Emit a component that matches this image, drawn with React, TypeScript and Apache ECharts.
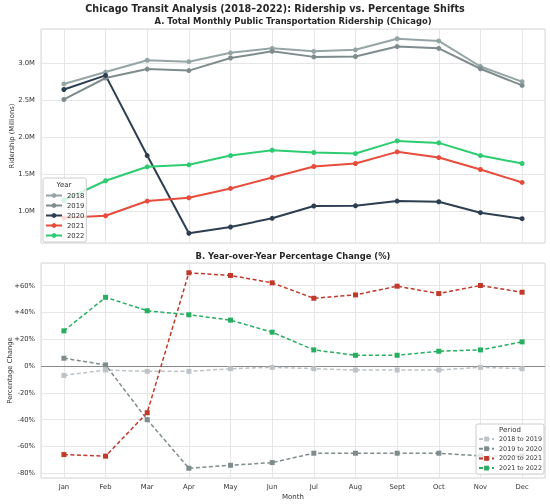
import React, { useEffect, useRef } from "react";
import * as echarts from "echarts";

const months = ["Jan", "Feb", "Mar", "Apr", "May", "Jun", "Jul", "Aug", "Sept", "Oct", "Nov", "Dec"];

// Ridership in millions
const years = ["2018", "2019", "2020", "2021", "2022"];
const r2018 = [2.72, 2.88, 3.04, 3.02, 3.14, 3.2, 3.16, 3.18, 3.33, 3.3, 2.955, 2.75];
const r2019 = [2.51, 2.8, 2.92, 2.9, 3.07, 3.16, 3.085, 3.09, 3.225, 3.2, 2.925, 2.7];
const r2020 = [2.645, 2.835, 1.753, 0.704, 0.789, 0.906, 1.072, 1.076, 1.139, 1.13, 0.982, 0.901];
const r2021 = [0.912, 0.94, 1.139, 1.184, 1.309, 1.457, 1.605, 1.646, 1.803, 1.726, 1.565, 1.39];
const r2022 = [1.15, 1.413, 1.601, 1.628, 1.753, 1.825, 1.794, 1.78, 1.951, 1.924, 1.753, 1.646];

// Year-over-year % change
const periods = ["2018 to 2019", "2019 to 2020", "2020 to 2021", "2021 to 2022"];
const p1819 = [-7, -3, -4, -4, -2, -1, -2, -3, -3, -3, -1, -2];
const p1920 = [5.8, 0.8, -40, -76.2, -74, -72, -65, -65, -65, -65, -67, -67];
const p2021 = [-66, -67.2, -34.8, 69.5, 67.5, 62, 50.5, 53, 59.5, 54, 60, 55];
const p2122 = [26.2, 51.2, 41.2, 38.2, 34.2, 25.2, 12, 8, 8, 11, 12, 18];

const yearColors = ["#95a5a6", "#7f8c8d", "#2c3e50", "#e74c3c", "#2ecc71"];
const periodColors = ["#bdc3c7", "#7f8c8d", "#c0392b", "#27ae60"];

const FONT = "DejaVu Sans";
const TXT = "#333333";
const GRIDC = "#e6e6e6";

function toPts(arr: number[]) {
  return arr.map((v, i) => [i, v]);
}

export default function App() {
  const ref = useRef<HTMLDivElement>(null);
  useEffect(() => {
    document.body.style.margin = "0";
    if (!ref.current) return;
    const chart = echarts.init(ref.current, undefined, { renderer: "svg" });

    const monthFmt = (v: number) => {
      const i = Math.round(v);
      return Math.abs(v - i) < 1e-6 && i >= 0 && i < 12 ? months[i] : "";
    };
    const xAxisBase = (gridIndex: number, showLabels: boolean) => ({
      type: "value",
      gridIndex,
      min: -0.55,
      max: 11.55,
      minInterval: 1,
      maxInterval: 1,
      axisLine: { show: false },
      axisTick: { show: false },
      splitLine: { show: true, lineStyle: { color: GRIDC, width: 1 } },
      axisLabel: {
        show: showLabels,
        formatter: monthFmt,
        color: TXT,
        fontSize: 6.8,
        fontFamily: FONT,
        margin: 5,
      },
      name: showLabels ? "Month" : "",
      nameLocation: "middle",
      nameGap: 15,
      nameMoveOverlap: false,
      nameTextStyle: { color: TXT, fontSize: 7, fontFamily: FONT },
    });

    const topSeries = [r2018, r2019, r2020, r2021, r2022].map((arr, k) => ({
      name: years[k],
      type: "line",
      xAxisIndex: 0,
      yAxisIndex: 0,
      data: toPts(arr),
      symbol: "circle",
      symbolSize: 5,
      lineStyle: { color: yearColors[k], width: 2 },
      itemStyle: { color: yearColors[k] },
      emphasis: { disabled: true },
      z: 2,
    }));

    const botSeries = [p1819, p1920, p2021, p2122].map((arr, k) => ({
      name: periods[k],
      type: "line",
      xAxisIndex: 1,
      yAxisIndex: 1,
      data: toPts(arr),
      symbol: "rect",
      symbolSize: 5,
      lineStyle: { color: periodColors[k], width: 1.5, type: [4, 2.5] },
      itemStyle: { color: periodColors[k] },
      emphasis: { disabled: true },
      z: 2,
      ...(k === 0
        ? {
            markLine: {
              silent: true,
              symbol: "none",
              label: { show: false },
              lineStyle: { color: "#8a8a8a", width: 1, type: "solid" },
              data: [{ yAxis: 0 }],
              z: 1,
            },
          }
        : {}),
    }));

    const option = {
      animation: false,
      textStyle: { fontFamily: FONT },
      grid: [
        {
          left: 41, right: 5, top: 29, height: 214,
          show: true, borderColor: "#d6d6d6", borderWidth: 1,
          containLabel: false, outerBoundsMode: "none",
        },
        {
          left: 41, right: 5, top: 263, height: 215,
          show: true, borderColor: "#d6d6d6", borderWidth: 1,
          containLabel: false, outerBoundsMode: "none",
        },
      ],
      xAxis: [xAxisBase(0, false), xAxisBase(1, true)],
      yAxis: [
        {
          type: "value",
          gridIndex: 0,
          min: (v: any) => v.min - 0.05 * (v.max - v.min),
          max: (v: any) => v.max + 0.05 * (v.max - v.min),
          minInterval: 0.5,
          maxInterval: 0.5,
          axisLine: { show: false },
          axisTick: { show: false },
          splitLine: { show: true, lineStyle: { color: GRIDC, width: 1 } },
          axisLabel: {
            color: TXT,
            fontSize: 6.8,
            fontFamily: FONT,
            margin: 6,
            formatter: (v: number) => {
              const r = Math.round(v * 2) / 2;
              return Math.abs(v - r) < 1e-6 ? v.toFixed(1) + "M" : "";
            },
          },
          name: "Ridership (Millions)",
          nameLocation: "middle",
          nameGap: 25.5,
          nameMoveOverlap: false,
          nameTextStyle: { color: TXT, fontSize: 6.8, fontFamily: FONT },
        },
        {
          type: "value",
          gridIndex: 1,
          min: (v: any) => v.min - 0.05 * (v.max - v.min),
          max: (v: any) => v.max + 0.05 * (v.max - v.min),
          minInterval: 20,
          maxInterval: 20,
          axisLine: { show: false },
          axisTick: { show: false },
          splitLine: { show: true, lineStyle: { color: GRIDC, width: 1 } },
          axisLabel: {
            color: TXT,
            fontSize: 6.8,
            fontFamily: FONT,
            margin: 6,
            formatter: (v: number) => {
              const r = Math.round(v / 20) * 20;
              if (Math.abs(v - r) > 1e-6) return "";
              return r > 0 ? "+" + r + "%" : r + "%";
            },
          },
          name: "Percentage Change",
          nameLocation: "middle",
          nameGap: 28,
          nameMoveOverlap: false,
          nameTextStyle: { color: TXT, fontSize: 6.8, fontFamily: FONT },
        },
      ],
      legend: [
        {
          data: years,
          orient: "vertical",
          left: 43,
          top: 178,
          z: 20,
          padding: [14, 2, 3, 2],
          itemWidth: 16,
          itemHeight: 6,
          itemGap: 3,
          backgroundColor: "rgba(255,255,255,0.8)",
          borderColor: "#cccccc",
          borderWidth: 1,
          borderRadius: 2,
          textStyle: { color: TXT, fontSize: 6.8, fontFamily: FONT },
          selectedMode: false,
        },
        {
          data: periods,
          orient: "vertical",
          left: 476,
          top: 424,
          z: 20,
          padding: [12, 2, 3, 2],
          itemWidth: 15,
          itemHeight: 6,
          itemGap: 3.7,
          backgroundColor: "rgba(255,255,255,0.8)",
          borderColor: "#cccccc",
          borderWidth: 1,
          borderRadius: 2,
          textStyle: { color: TXT, fontSize: 6.4, fontFamily: FONT },
          selectedMode: false,
        },
      ],
      graphic: [
        {
          type: "text",
          x: 275,
          y: 8,
          z: 100,
          style: {
            text: "Chicago Transit Analysis (2018–2022): Ridership vs. Percentage Shifts",
            textAlign: "center",
            textVerticalAlign: "middle",
            font: `bold 9.6px "${FONT}"`,
            fill: "#262626",
          },
        },
        {
          type: "text",
          x: 293,
          y: 21,
          z: 100,
          style: {
            text: "A. Total Monthly Public Transportation Ridership (Chicago)",
            textAlign: "center",
            textVerticalAlign: "middle",
            font: `bold 8.4px "${FONT}"`,
            fill: "#262626",
          },
        },
        {
          type: "text",
          x: 293,
          y: 256,
          z: 100,
          style: {
            text: "B. Year-over-Year Percentage Change (%)",
            textAlign: "center",
            textVerticalAlign: "middle",
            font: `bold 8.4px "${FONT}"`,
            fill: "#262626",
          },
        },
        {
          type: "text",
          x: 64,
          y: 185,
          z: 100,
          style: {
            text: "Year",
            textAlign: "center",
            textVerticalAlign: "middle",
            font: `7px "${FONT}"`,
            fill: TXT,
          },
        },
        {
          type: "text",
          x: 510,
          y: 429.5,
          z: 100,
          style: {
            text: "Period",
            textAlign: "center",
            textVerticalAlign: "middle",
            font: `7px "${FONT}"`,
            fill: TXT,
          },
        },
      ],
      series: [...topSeries, ...botSeries],
    };

    chart.setOption(option as any);
    return () => chart.dispose();
  }, []);

  return (
    <div
      ref={ref}
      style={{ width: 550, height: 504, position: "fixed", left: 0, top: 0 }}
    />
  );
}
